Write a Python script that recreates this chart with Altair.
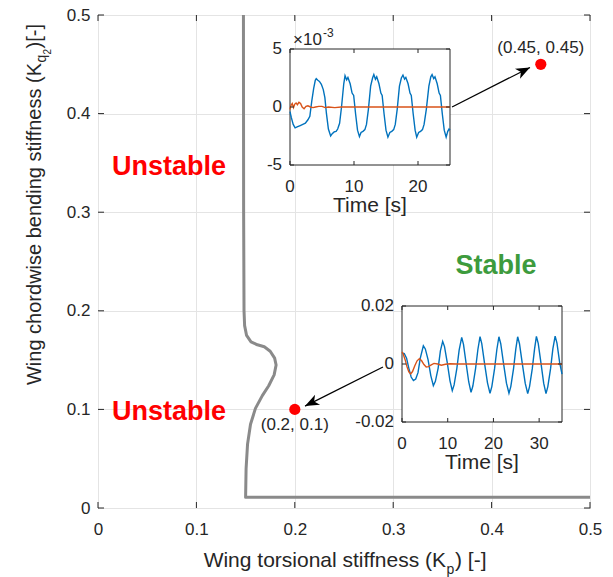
import math
import altair as alt
import pandas as pd

FONT = "Liberation Sans"
INK = "#262626"
BLUE = "#0072BD"
ORANGE = "#D95319"

# ---------------- stability map ----------------
# boundary between the unstable and stable regions
boundary_kp = [0.1478, 0.1480, 0.1484, 0.1490, 0.1510, 0.1555, 0.1620, 0.1690, 0.1750,
               0.1795, 0.1810, 0.1790, 0.1735, 0.1670, 0.1600, 0.1550, 0.1520, 0.1505,
               0.1500, 0.5000]
boundary_kq = [0.5000, 0.3000, 0.2000, 0.1850, 0.1750, 0.1685, 0.1655, 0.1635, 0.1590,
               0.1520, 0.1450, 0.1350, 0.1240, 0.1140, 0.1010, 0.0850, 0.0650, 0.0400,
               0.0108, 0.0108]

# sampled design points
sample_kp = [0.2, 0.45]
sample_kq = [0.1, 0.45]
sample_text = ["(0.2, 0.1)", "(0.45, 0.45)"]

# region names
region_text = ["Unstable", "Unstable", "Stable"]
region_kp = [0.0722, 0.0722, 0.4045]
region_kq = [0.3377, 0.0892, 0.2373]
region_color = ["#ff0000", "#ff0000", "#3d9b3d"]

# arrows from each time history to its design point
arrow_kp0 = [0.3598, 0.2896]
arrow_kq0 = [0.4067, 0.1430]
arrow_kp1 = [0.4390, 0.2104]
arrow_kq1 = [0.4468, 0.1034]

map_ticks = [0, 0.1, 0.2, 0.3, 0.4, 0.5]

# ---------------- time history at (0.45, 0.45), units of 1e-3 ----------------
t_a = [0, 0.2, 0.5, 0.8, 1.2, 1.6, 2.0, 2.4, 2.8, 3.1, 3.4, 3.7, 3.95, 4.1, 4.35, 4.6,
       4.9, 5.2, 5.45, 5.7, 6.0, 6.35, 6.6, 6.9, 7.2, 7.45, 7.75, 8.05, 8.4, 8.6, 8.85,
       9.05, 9.4, 9.7, 9.95, 10.25, 10.55, 10.85, 11.1, 11.4, 11.7, 11.95, 12.25, 12.6,
       12.9, 13.1, 13.35, 13.55, 13.9, 14.2, 14.4, 14.7, 15.0, 15.3, 15.6, 15.9, 16.2,
       16.45, 16.75, 17.1, 17.4, 17.65, 17.9, 18.1, 18.45, 18.75, 18.95, 19.25, 19.55,
       19.8, 20.1, 20.4, 20.7, 20.95, 21.3, 21.7, 22.0, 22.2, 22.45, 22.65, 23.0, 23.3,
       23.5, 23.8, 24.1, 24.4, 24.65, 24.85, 25.0]
blue_a = [-0.4, -0.9, -1.5, -1.8, -1.7, -1.6, -1.5, -1.4, -1.1, -0.8, 0.5, 1.6, 2.3, 2.45,
          2.3, 2.2, 1.95, 1.5, 0.8, -0.6, -1.9, -2.5, -2.3, -2.15, -2.1, -1.9, -1.4, 0.0,
          2.0, 2.7, 2.35, 2.55, 2.0, 1.2, 1.0, -0.6, -2.0, -2.55, -2.2, -2.1, -1.95, -1.5,
          -0.2, 1.8, 2.5, 2.8, 2.4, 2.6, 2.0, 1.2, 1.0, -0.6, -2.0, -2.6, -2.2, -2.1, -1.95,
          -1.5, -0.2, 1.8, 2.5, 2.75, 2.4, 2.55, 2.0, 1.2, 1.0, -0.6, -2.0, -2.6, -2.2,
          -2.1, -1.95, -1.5, -0.2, 1.8, 2.6, 2.8, 2.45, 2.6, 2.0, 1.2, 1.0, -0.6, -2.0,
          -2.6, -2.1, -1.9, -2.0]
t_a_ref = [0, 0.15, 0.35, 0.55, 0.75, 0.95, 1.15, 1.4, 1.65, 1.9, 2.2, 2.5, 2.8, 3.2, 3.6,
           4.0, 4.5, 5.0, 5.5, 6.0, 7.0, 8.0, 9.0, 10.0, 12.0, 15.0, 20.0, 25.0]
orange_a = [-0.2, 0.15, 0.3, -0.05, 0.25, 0.35, 0.2, 0.4, 0.3, 0.0, -0.15, 0.05, 0.1, 0.0,
            -0.05, 0.0, 0.05, 0.05, -0.05, 0.0, -0.05, 0.0, 0.0, 0.0, 0.0, 0.0, 0.0, 0.0]
a_xticks = [0, 10, 20]
a_xtick_text = ["0", "10", "20"]
a_yticks = [-5, 0, 5]
a_ytick_text = ["-5", "0", "5"]

# ---------------- time history at (0.2, 0.1) ----------------
t_b = [0, 0.5, 1.0, 1.5, 2.0, 2.5, 3.0, 3.5, 4.0, 4.67, 5.1, 5.7, 6.3, 6.86, 7.3, 7.9,
       8.4, 8.9, 9.3, 9.9, 10.5, 11.0, 11.4, 12.0, 12.5, 13.06, 13.45, 14.0, 14.6, 15.1,
       15.5, 16.1, 16.6, 17.07, 17.45, 18.05, 18.7, 19.25, 19.65, 20.25, 20.75, 21.2,
       21.6, 22.2, 22.85, 23.4, 23.8, 24.4, 24.9, 25.3, 25.7, 26.3, 26.95, 27.5, 27.9,
       28.5, 29.0, 29.4, 29.8, 30.4, 31.0, 31.5, 31.9, 32.5, 33.0, 33.5, 33.9, 34.5, 35.0]
blue_b = [0.0038, 0.0036, 0.0020, -0.0015, -0.0045, -0.0057, -0.0052, -0.0030, 0.0020,
          0.0063, 0.0052, 0.0015, -0.0040, -0.0075, -0.0060, -0.0015, 0.0045, 0.0078,
          0.0060, 0.0005, -0.0058, -0.0092, -0.0072, -0.0015, 0.0048, 0.0092, 0.0068,
          0.0005, -0.0062, -0.0098, -0.0076, -0.0015, 0.0050, 0.0094, 0.0070, 0.0003,
          -0.0065, -0.0101, -0.0078, -0.0016, 0.0050, 0.0094, 0.0070, 0.0003, -0.0066,
          -0.0101, -0.0078, -0.0016, 0.0052, 0.0094, 0.0070, 0.0003, -0.0066, -0.0102,
          -0.0078, -0.0016, 0.0052, 0.0095, 0.0071, 0.0003, -0.0067, -0.0102, -0.0078,
          -0.0016, 0.0052, 0.0096, 0.0072, 0.0004, -0.0035]
t_b_ref = [0, 0.3, 0.7, 1.1, 1.5, 1.9, 2.3, 2.8, 3.3, 3.8, 4.3, 4.8, 5.3, 5.8, 6.4, 7.0,
           7.8, 8.6, 9.5, 10.5, 12, 15, 20, 25, 30, 35]
orange_b = [0.0042, 0.0033, 0.0014, -0.0010, -0.0027, -0.0034, -0.0026, -0.0006, 0.0011,
            0.0018, 0.0011, -0.0002, -0.0010, -0.0009, -0.0003, 0.0002, 0.0000, -0.0004,
            -0.0001, 0.0001, 0.0, 0.0, 0.0, 0.0, 0.0, 0.0]
b_xticks = [0, 10, 20, 30]
b_xtick_text = ["0", "10", "20", "30"]
b_yticks = [-0.02, 0, 0.02]
b_ytick_text = ["-0.02", "0", "0.02"]

W, H = 492, 493

# ---------------- stability map layers ----------------
map_sx = alt.Scale(domain=[0, 0.5], nice=False, zero=False)
map_sy = alt.Scale(domain=[0, 0.5], nice=False, zero=False)
ax_x = alt.Axis(values=map_ticks, format="~g", title=None, labelFlush=False,
                labelPadding=13, grid=True)
ax_y = alt.Axis(values=map_ticks, format="~g", title=None, labelPadding=8, grid=True)


def MX(f):
    return alt.X(f, type="quantitative", scale=map_sx, axis=ax_x)


def MY(f):
    return alt.Y(f, type="quantitative", scale=map_sy, axis=ax_y)


boundary_df = pd.DataFrame({"kp": boundary_kp, "kq": boundary_kq,
                            "i": list(range(len(boundary_kp)))})
boundary = alt.Chart(boundary_df).mark_line(
    color="#8a8a8a", strokeWidth=3, strokeJoin="round"
).encode(x=MX("kp"), y=MY("kq"), order="i:Q")

px_x, px_y = W / 0.5, H / 0.5
head_angle = [
    (math.degrees(math.atan2((x1 - x0) * px_x, (y1 - y0) * px_y)) + 360) % 360
    for x0, y0, x1, y1 in zip(arrow_kp0, arrow_kq0, arrow_kp1, arrow_kq1)
]
arrow_df = pd.DataFrame({"kp0": arrow_kp0, "kq0": arrow_kq0, "kp1": arrow_kp1,
                         "kq1": arrow_kq1, "ang": head_angle})
arrow_lines = alt.Chart(arrow_df).mark_rule(color="black", strokeWidth=1.3).encode(
    x=MX("kp0"), y=MY("kq0"), x2="kp1", y2="kq1")
ARROW_HEAD = "M0,0 L0.8,2 L0,1.45 L-0.8,2 Z"
arrow_heads = alt.Chart(arrow_df).mark_point(
    shape=ARROW_HEAD, filled=True, size=196, color="black", opacity=1
).encode(x=MX("kp1"), y=MY("kq1"), angle=alt.Angle("ang:Q", scale=None))

sample_df = pd.DataFrame({"kp": sample_kp, "kq": sample_kq, "txt": sample_text})
sample_pts = alt.Chart(sample_df).mark_point(
    shape="circle", filled=True, size=125, color="#ff0000", opacity=1
).encode(x=MX("kp"), y=MY("kq"))
sample_lbl_low = alt.Chart(sample_df.iloc[[0]]).mark_text(
    font=FONT, fontSize=17, color=INK, baseline="alphabetic", dy=21
).encode(x=MX("kp"), y=MY("kq"), text="txt:N")
sample_lbl_high = alt.Chart(sample_df.iloc[[1]]).mark_text(
    font=FONT, fontSize=17, color=INK, baseline="alphabetic", dy=-11
).encode(x=MX("kp"), y=MY("kq"), text="txt:N")

region_df = pd.DataFrame({"kp": region_kp, "kq": region_kq, "txt": region_text,
                          "c": region_color})
regions = alt.Chart(region_df).mark_text(
    font=FONT, fontSize=27, fontWeight="bold", baseline="alphabetic"
).encode(x=MX("kp"), y=MY("kq"), text="txt:N", color=alt.Color("c:N", scale=None))


def edge_ticks(vals, fixed, vertical, offset, size, X, Y):
    if vertical:
        df = pd.DataFrame({"a": vals, "b": [fixed] * len(vals)})
        return alt.Chart(df).mark_tick(orient="vertical", size=size, thickness=1,
                                       color=INK, yOffset=offset, opacity=1).encode(
            x=X("a"), y=Y("b"))
    df = pd.DataFrame({"a": [fixed] * len(vals), "b": vals})
    return alt.Chart(df).mark_tick(orient="horizontal", size=size, thickness=1,
                                   color=INK, xOffset=offset, opacity=1).encode(
        x=X("a"), y=Y("b"))


map_ticks_layers = [
    edge_ticks(map_ticks, 0, True, -3, 6, MX, MY),
    edge_ticks(map_ticks, 0.5, True, 3, 6, MX, MY),
    edge_ticks(map_ticks, 0, False, 3, 6, MX, MY),
    edge_ticks(map_ticks, 0.5, False, -3, 6, MX, MY),
]


def piece(s, px, py, size, align, angle=0):
    return alt.Chart(pd.DataFrame({"s": [s]})).mark_text(
        font=FONT, fontSize=size, color=INK, align=align, baseline="alphabetic",
        angle=angle
    ).encode(text="s:N", x=alt.value(px), y=alt.value(py))


# axis titles with subscripts
x_title = [
    piece("Wing torsional stiffness (K", 348, 552, 21, "right"),
    piece("p", 348.5, 559, 14, "left"),
    piece(") [-]", 357, 552, 21, "left"),
]
y_title = [
    piece("Wing chordwise bending stiffness (K", -57, 48, 20, "right", 270),
    piece("q", -52, 47.5, 14, "left", 270),
    piece("2", -47, 39.5, 10, "left", 270),
    piece(")[-]", -57, 33.5, 20, "left", 270),
]

map_layer = alt.layer(boundary, arrow_lines, arrow_heads, sample_pts, sample_lbl_low,
                      sample_lbl_high, regions, *map_ticks_layers, *x_title, *y_title)


# ---------------- inset time histories ----------------
def inset(t_sig, sig, t_ref, ref, t_end, v_lim, xticks, xtext, yticks, ytext,
          x_px, y_px, extra=None):
    sx = alt.Scale(domain=[0, t_end], range=x_px, nice=False, zero=False)
    sy = alt.Scale(domain=[-v_lim, v_lim], range=y_px, nice=False, zero=False)

    def X(f):
        return alt.X(f, type="quantitative", scale=sx, axis=None)

    def Y(f):
        return alt.Y(f, type="quantitative", scale=sy, axis=None)

    frame_df = pd.DataFrame({"t0": [0], "t1": [t_end], "v0": [-v_lim], "v1": [v_lim]})
    frame = alt.Chart(frame_df).mark_rect(fill="white", stroke=INK, strokeWidth=1).encode(
        x=X("t0"), x2="t1", y=Y("v0"), y2="v1")
    blue = alt.Chart(pd.DataFrame({"t": t_sig, "v": sig})).mark_line(
        color=BLUE, strokeWidth=1.4).encode(x=X("t"), y=Y("v"))
    orange = alt.Chart(pd.DataFrame({"t": t_ref, "v": ref})).mark_line(
        color=ORANGE, strokeWidth=1.4).encode(x=X("t"), y=Y("v"))
    ticks = [
        edge_ticks(xticks, -v_lim, True, -2, 4, X, Y),
        edge_ticks(xticks, v_lim, True, 2, 4, X, Y),
        edge_ticks(yticks, 0, False, 2, 4, X, Y),
        edge_ticks(yticks, t_end, False, -2, 4, X, Y),
    ]
    xlab = alt.Chart(pd.DataFrame({"t": xticks, "v": [-v_lim] * len(xticks),
                                   "s": xtext})).mark_text(
        font=FONT, fontSize=17, color=INK, baseline="alphabetic", dy=27
    ).encode(x=X("t"), y=Y("v"), text="s:N")
    ylab = alt.Chart(pd.DataFrame({"t": [0] * len(yticks), "v": yticks,
                                   "s": ytext})).mark_text(
        font=FONT, fontSize=17, color=INK, align="right", baseline="middle", dx=-8
    ).encode(x=X("t"), y=Y("v"), text="s:N")
    xtitle = alt.Chart(pd.DataFrame({"t": [t_end / 2], "v": [-v_lim],
                                     "s": ["Time [s]"]})).mark_text(
        font=FONT, fontSize=21, color=INK, baseline="alphabetic", dy=47
    ).encode(x=X("t"), y=Y("v"), text="s:N")
    layers = [frame, blue, orange, *ticks, xlab, ylab, xtitle]
    if extra:
        layers += extra(X, Y)
    return alt.layer(*layers)


def exponent_label(X, Y):
    df = pd.DataFrame({"t": [0], "v": [5], "base": ["\u00d710"], "pw": ["-3"]})
    base = alt.Chart(df).mark_text(
        font=FONT, fontSize=17, color=INK, align="left", baseline="alphabetic",
        dx=3, dy=-4).encode(x=X("t"), y=Y("v"), text="base:N")
    power = alt.Chart(df).mark_text(
        font=FONT, fontSize=12, color=INK, align="left", baseline="alphabetic",
        dx=33, dy=-12).encode(x=X("t"), y=Y("v"), text="pw:N")
    return [base, power]


inset_high = inset(t_a, blue_a, t_a_ref, orange_a, 25, 5, a_xticks, a_xtick_text,
                   a_yticks, a_ytick_text, [192, 352], [150, 34], extra=exponent_label)
inset_low = inset(t_b, blue_b, t_b_ref, orange_b, 35, 0.02, b_xticks, b_xtick_text,
                  b_yticks, b_ytick_text, [304, 464], [407, 291])

chart = alt.layer(map_layer, inset_high, inset_low).resolve_scale(
    x="independent", y="independent"
).properties(
    width=W, height=H,
    padding={"left": 98, "top": 15, "right": 23, "bottom": 69},
    autosize=alt.AutoSizeParams(type="none"),
    background="white",
).configure_view(
    stroke="#3c3c3c", strokeWidth=1
).configure_axis(
    domain=False, ticks=False, tickSize=0, gridColor="#e4e4e4", gridWidth=1,
    labelFont=FONT, labelFontSize=17, labelColor=INK
)

chart.save("out.html", embed_options={"renderer": "svg", "actions": False})
